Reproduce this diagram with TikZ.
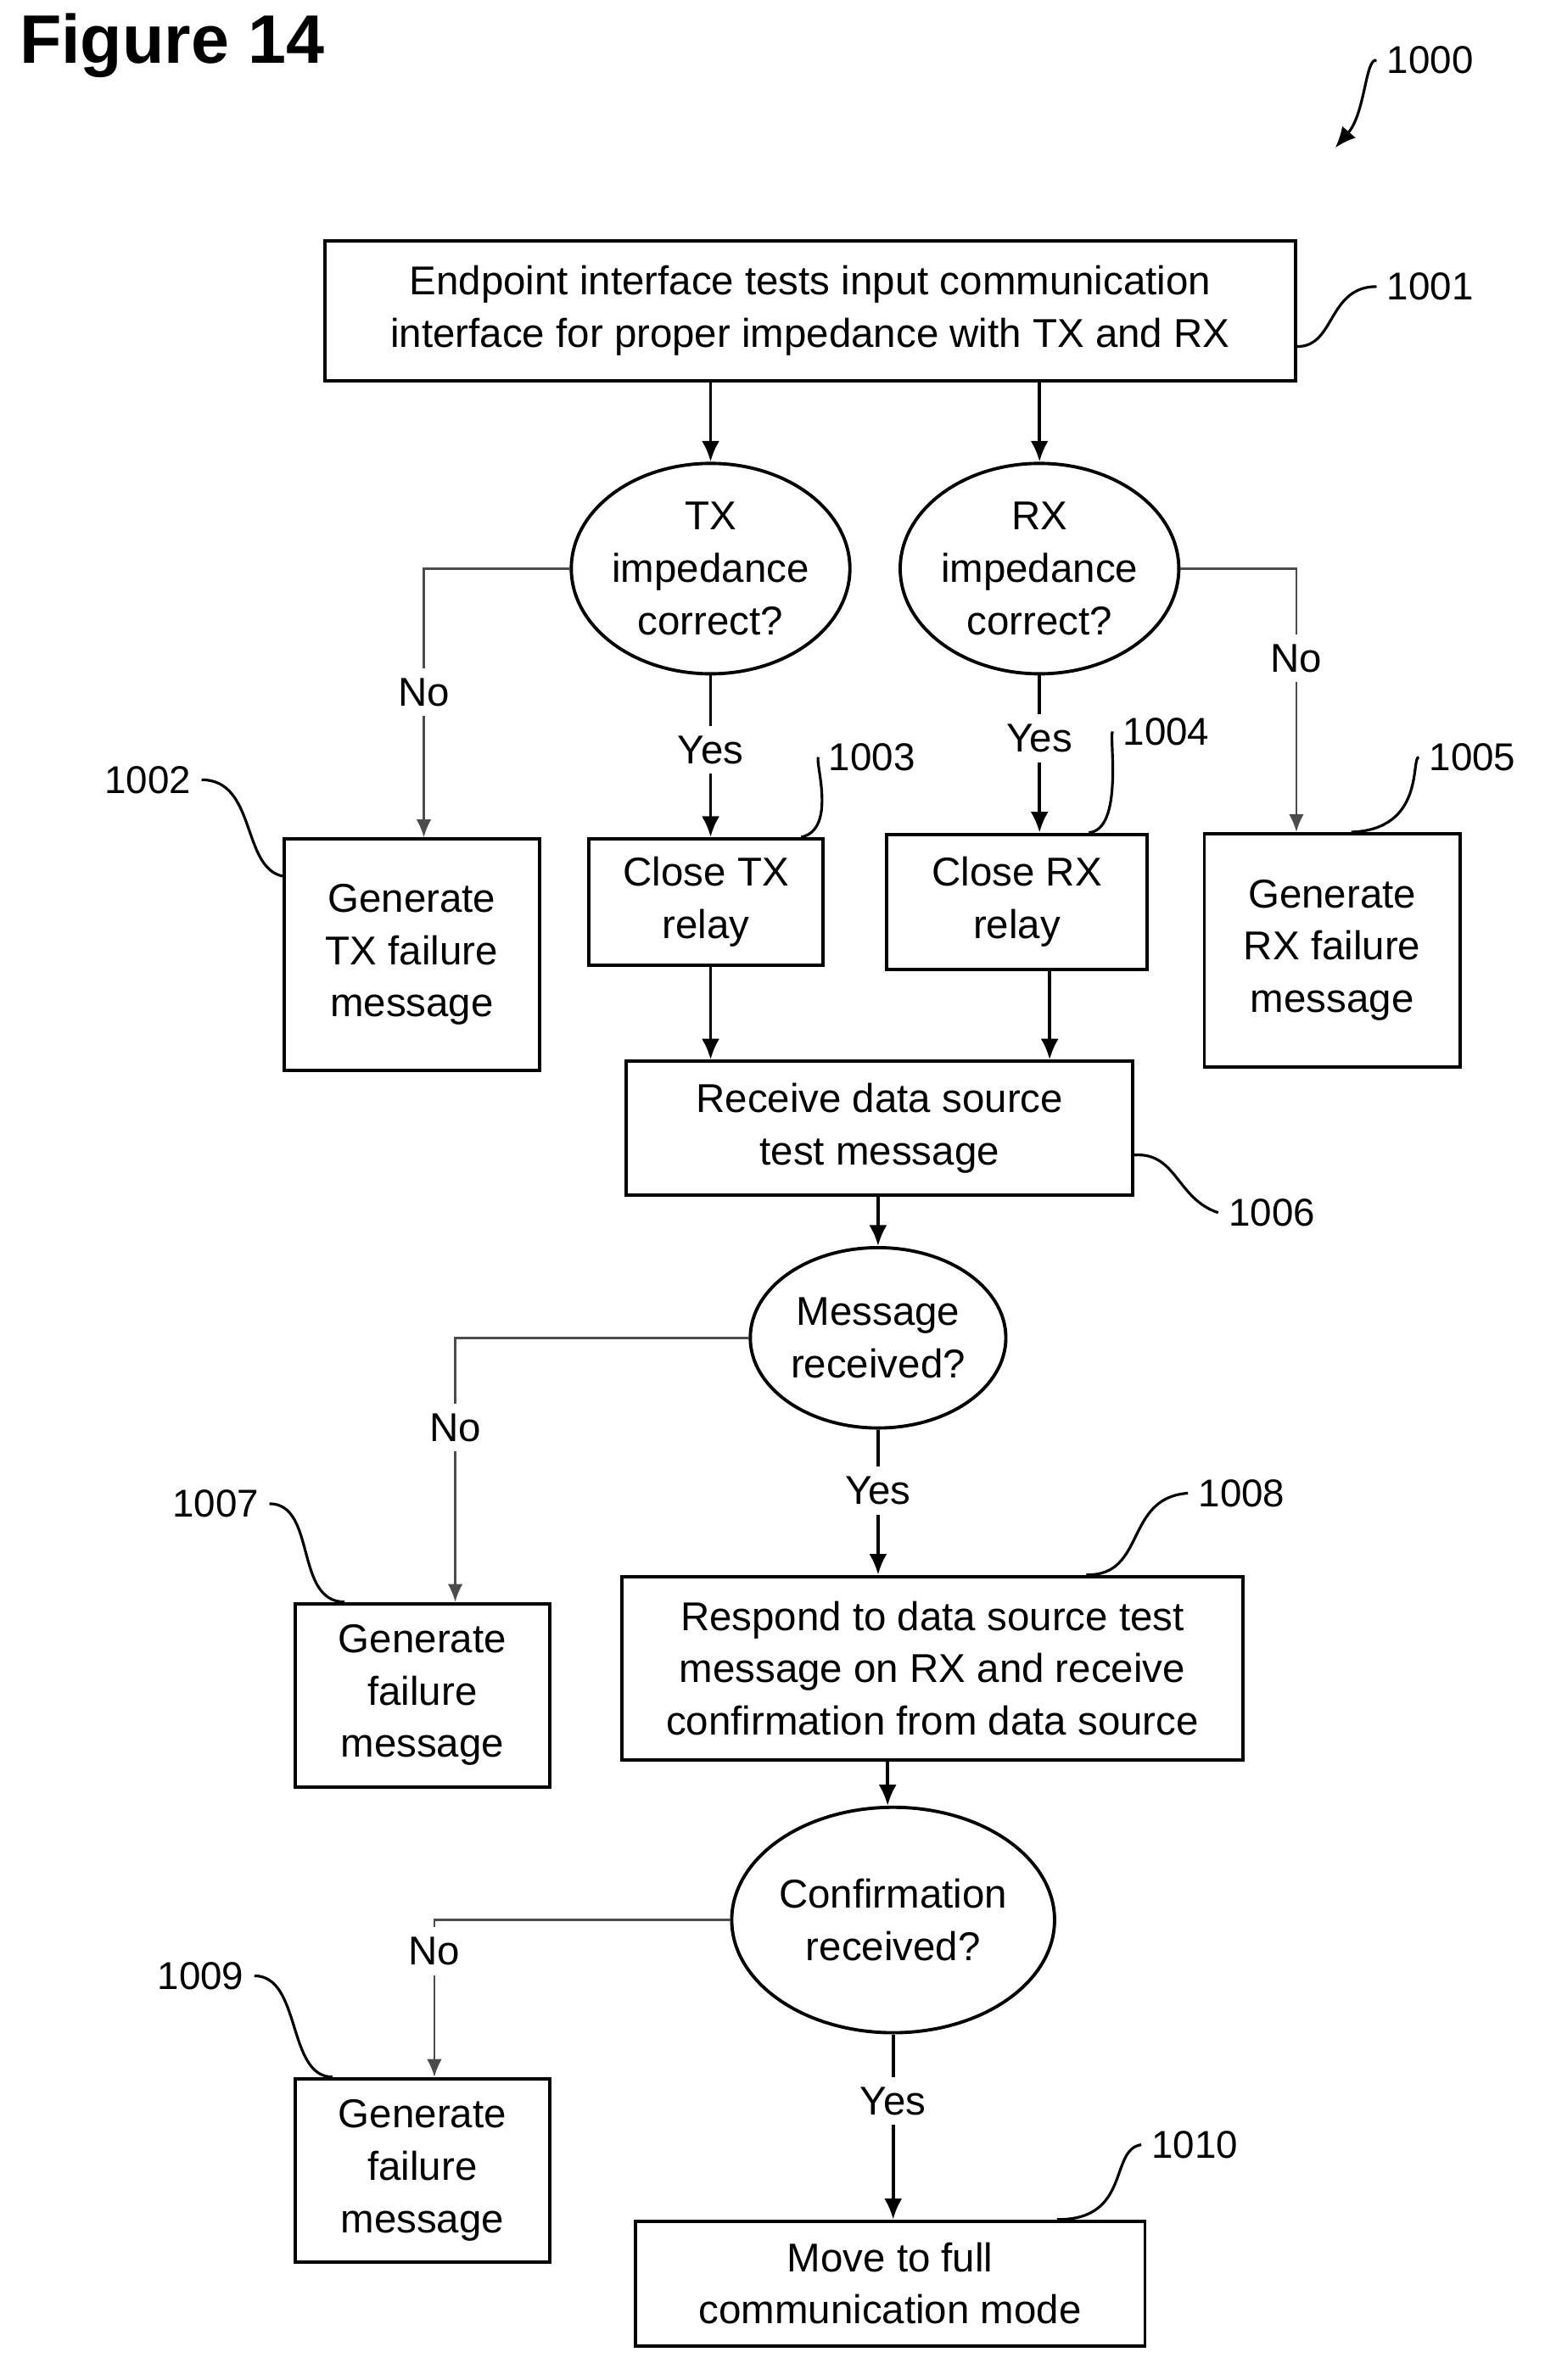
\documentclass[tikz,border=0pt]{standalone}
\usepackage{fontspec}
\setmainfont{Liberation Sans}
\usetikzlibrary{shapes.geometric,arrows.meta}

\tikzset{
  box/.style = {draw, line width=1.1pt, align=center, inner sep=0pt},
  dec/.style = {draw, ellipse, line width=1.1pt, align=center, inner sep=0pt},
  flow/.style = {line width=1.1pt, -{Latex[length=7pt,width=6pt]}},
  nopath/.style = {line width=0.7pt, gray!60!black, -{Latex[length=6pt,width=5pt]}},
  lbl/.style = {font=\fontsize{13}{15}\selectfont},
  refl/.style = {line width=0.9pt},
}

\begin{document}
\begin{tikzpicture}[x=0.01778cm, y=-0.01778cm, font=\fontsize{13.5}{17.5}\selectfont]
            \useasboundingbox (0,0) rectangle (1024,1578);
            \node[anchor=west, font=\fontsize{23}{26}\selectfont\bfseries] (fig) at (6,30) {Figure 14};
            \node[lbl] (l1000) at (948,40) {1000};
            \coordinate (p1000) at (885,98);
            \draw[refl, -{Latex[length=7pt,width=6pt]}] (l1000.west) .. controls (905,38) and (905,75) .. (p1000);

            % steps
            \node[box, minimum width={646*0.504pt}, minimum height={93*0.504pt}] (b1001) at (537,206) {Endpoint interface tests input communication\\interface for proper impedance with TX and RX};
            \node[dec, minimum width={168*0.504pt}, minimum height={140*0.504pt}] (tx) at (471,377) {TX\\impedance\\correct?};
            \node[dec, minimum width={168*0.504pt}, minimum height={140*0.504pt}] (rx) at (689,377) {RX\\impedance\\correct?};
            \node[box, minimum width={170*0.504pt}, minimum height={154*0.504pt}] (b1002) at (273,633) {Generate\\TX failure\\message};
            \node[box, minimum width={156*0.504pt}, minimum height={84*0.504pt}] (b1003) at (468,598) {Close TX\\relay};
            \node[box, minimum width={173*0.504pt}, minimum height={90*0.504pt}] (b1004) at (674,598) {Close RX\\relay};
            \node[box, minimum width={170*0.504pt}, minimum height={155*0.504pt}] (b1005) at (883,630) {Generate\\RX failure\\message};
            \node[box, minimum width={337*0.504pt}, minimum height={89*0.504pt}] (b1006) at (583,748) {Receive data source\\test message};
            \node[dec, minimum width={170*0.504pt}, minimum height={120*0.504pt}] (msg) at (582,887) {Message\\received?};
            \node[box, minimum width={169*0.504pt}, minimum height={122*0.504pt}] (b1007) at (280,1124) {Generate\\failure\\message};
            \node[box, minimum width={413*0.504pt}, minimum height={122*0.504pt}] (b1008) at (618,1106) {Respond to data source test\\message on RX and receive\\confirmation from data source};
            \node[dec, minimum width={212*0.504pt}, minimum height={150*0.504pt}] (conf) at (592,1273) {Confirmation\\received?};
            \node[box, minimum width={169*0.504pt}, minimum height={122*0.504pt}] (b1009) at (280,1439) {Generate\\failure\\message};
            \node[box, minimum width={339*0.504pt}, minimum height={83*0.504pt}] (b1010) at (590,1514) {Move to full\\communication mode};

            % connectors
            \draw[flow] (b1001.south -| tx) -- (tx.north);
            \draw[flow] (b1001.south -| rx) -- (rx.north);
            \draw[nopath] (tx.west) -| node[pos=0.73, fill=white, text=black] {No} ([xshift=4pt]b1002.north);
            \draw[nopath] (rx.east) -| node[pos=0.67, fill=white, text=black] {No} ([xshift=-12pt]b1005.north);
            \draw[flow] (tx.south) -- node[pos=0.46, fill=white] {Yes} (tx.south |- b1003.north);
            \draw[flow] (rx.south) -- node[pos=0.4, fill=white] {Yes} (rx.south |- b1004.north);
            \draw[flow] (b1003.south -| tx) -- (tx |- b1006.north);
            \draw[flow] ([xshift=11pt]b1004.south) -- ([xshift=11pt]b1004.south |- b1006.north);
            \draw[flow] (b1006.south -| msg) -- (msg.north);
            \draw[nopath] (msg.west) -| node[pos=0.67, fill=white, text=black] {No} ([xshift=11pt]b1007.north);
            \draw[flow] (msg.south) -- node[pos=0.42, fill=white] {Yes} (msg.south |- b1008.north);
            \draw[flow] ([xshift=-15pt]b1008.south) -- ([xshift=-15pt]b1008.south |- conf.north);
            \draw[nopath] (conf.west) -| node[pos=0.6, fill=white, text=black] {No} ([xshift=4pt]b1009.north);
            \draw[flow] (conf.south) -- node[pos=0.36, fill=white] {Yes} (conf.south |- b1010.north);

            % reference numerals
            \node[lbl] (l1001) at (948,190) {1001};
            \draw[refl] ([yshift=-12pt]b1001.east) .. controls (885,230) and (880,190) .. (l1001.west);
            \node[lbl] (l1002) at (98,517) {1002};
            \draw[refl] (l1002.east) .. controls (170,517) and (160,575) .. ([yshift=-13pt]b1002.north west);
            \node[lbl] (l1003) at (578,502) {1003};
            \draw[refl] (l1003.west) .. controls (540,505) and (555,550) .. ([xshift=-8pt]b1003.north east);
            \node[lbl] (l1004) at (773,485) {1004};
            \draw[refl] (l1004.west) .. controls (735,488) and (745,550) .. ([xshift=-20pt]b1004.north east);
            \node[lbl] (l1005) at (976,502) {1005};
            \draw[refl] (l1005.west) .. controls (935,502) and (945,550) .. ([xshift=-37pt]b1005.north east);
            \node[lbl] (l1006) at (843,804) {1006};
            \draw[refl] ([yshift=-9pt]b1006.east) .. controls (780,764) and (780,795) .. (l1006.west);
            \node[lbl] (l1007) at (143,997) {1007};
            \draw[refl] (l1007.east) .. controls (210,997) and (195,1062) .. ([xshift=17pt]b1007.north west);
            \node[lbl] (l1008) at (823,990) {1008};
            \draw[refl] (l1008.west) .. controls (745,993) and (760,1045) .. ([xshift=-53pt]b1008.north east);
            \node[lbl] (l1009) at (133,1310) {1009};
            \draw[refl] (l1009.east) .. controls (200,1310) and (190,1377) .. ([xshift=13pt]b1009.north west);
            \node[lbl] (l1010) at (792,1422) {1010};
            \draw[refl] (l1010.west) .. controls (735,1425) and (750,1472) .. ([xshift=-30pt]b1010.north east);
            \end{tikzpicture}
\end{document}
